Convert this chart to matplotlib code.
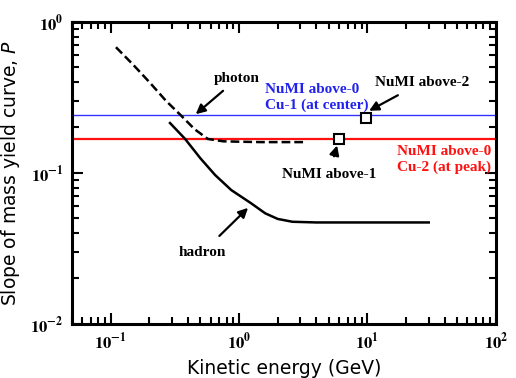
import numpy as np
import matplotlib
matplotlib.use("Agg")
import matplotlib.pyplot as plt
from matplotlib.ticker import FuncFormatter, LogLocator

# Data
photon_E = [0.11, 0.15, 0.2, 0.27, 0.35, 0.45, 0.57, 0.75, 1.0, 1.5, 2.0, 3.2]
photon_P = [0.68, 0.52, 0.40, 0.30, 0.242, 0.195, 0.168, 0.162, 0.161, 0.160, 0.160, 0.160]

hadron_E = [0.29, 0.38, 0.5, 0.65, 0.87, 1.24, 1.6, 2.0, 2.6, 4.0, 10.0, 30.0]
hadron_P = [0.214, 0.168, 0.125, 0.097, 0.077, 0.063, 0.054, 0.0496, 0.0475, 0.047, 0.047, 0.047]

numi_E = [6.0, 9.8]
numi_P = [0.168, 0.231]

blue_level = 0.242
red_level = 0.168

plt.rcParams['mathtext.fontset'] = 'stix'
fig = plt.figure(figsize=(5.16, 3.78), dpi=100)
ax = fig.add_axes([0.1395, 0.143, 0.8215, 0.799])

ax.set_xscale('log')
ax.set_yscale('log')
ax.set_xlim(0.05, 100)
ax.set_ylim(0.01, 1.0)

ax.axhline(blue_level, color='#3333ff', lw=1.0, zorder=1)
ax.axhline(red_level, color='#ff1111', lw=1.6, zorder=1)

ax.plot(photon_E, photon_P, color='black', lw=1.8, ls=(0, (3.5, 1.6)), zorder=3)
ax.plot(hadron_E, hadron_P, color='black', lw=1.8, zorder=3)
ax.plot(numi_E, numi_P, ls='none', marker='s', ms=7, mfc='white', mec='black', mew=1.5, zorder=4)

tfont = dict(family='Liberation Serif', fontweight='bold', fontsize=11)
arrow = dict(arrowstyle='-|>', color='black', lw=1.6, mutation_scale=14)

ax.annotate('photon', xy=(0.46, 0.245), xytext=(0.64, 0.42), ha='left', va='center',
            arrowprops=dict(arrow, shrinkA=3, shrinkB=0), color='black', **tfont)
ax.annotate('hadron', xy=(1.175, 0.0587), xytext=(0.514, 0.0295), ha='center', va='center',
            arrowprops=dict(arrow, shrinkA=8, shrinkB=0), color='black', **tfont)
ax.annotate('NuMI above-2', xy=(10.3, 0.258), xytext=(11.5, 0.4), ha='left', va='center',
            arrowprops=dict(arrow, shrinkA=6, shrinkB=0), color='black', **tfont)
ax.annotate('NuMI above-1', xy=(5.8, 0.152), xytext=(5.0, 0.097), ha='center', va='center',
            arrowprops=dict(arrow, shrinkA=7, shrinkB=0), color='black', **tfont)
ax.text(1.6, 0.255, 'NuMI above-0\nCu-1 (at center)', color='#2222ee', ha='left', va='bottom',
        linespacing=1.2, **tfont)
ax.text(17.0, 0.152, 'NuMI above-0\nCu-2 (at peak)', color='#ff1111', ha='left', va='top',
        linespacing=1.2, **tfont)

fmt = FuncFormatter(lambda v, p: r'$\mathbf{10^{%d}}$' % int(round(np.log10(v))))
ax.xaxis.set_major_locator(LogLocator(base=10, numticks=10))
ax.yaxis.set_major_locator(LogLocator(base=10, numticks=10))
ax.xaxis.set_major_formatter(fmt)
ax.yaxis.set_major_formatter(fmt)
ax.xaxis.set_minor_locator(LogLocator(base=10, subs=np.arange(2, 10), numticks=20))
ax.yaxis.set_minor_locator(LogLocator(base=10, subs=np.arange(2, 10), numticks=20))
ax.tick_params(which='both', direction='in', top=True, right=True, labelsize=12, width=1.5)
ax.tick_params(which='major', length=8, pad=6)
ax.tick_params(which='minor', length=5)
for s in ax.spines.values():
    s.set_linewidth(2.2)

ax.set_xlabel('Kinetic energy (GeV)', fontsize=13.5, family='DejaVu Sans', labelpad=4)
yl = ax.set_ylabel('Slope of mass yield curve, $\\mathit{P}$', fontsize=13.5, family='DejaVu Sans', labelpad=6)
yl.set_math_fontfamily('dejavusans')

fig.savefig('out.png', dpi=100)
